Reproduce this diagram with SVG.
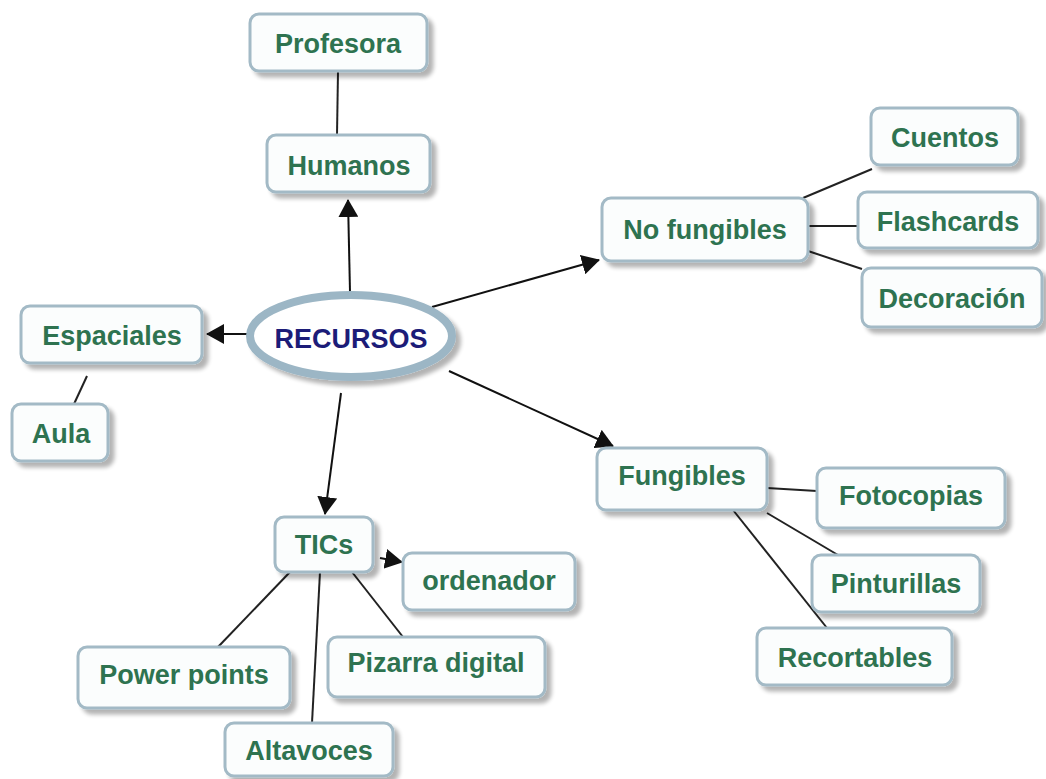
<svg xmlns="http://www.w3.org/2000/svg" width="1046" height="779" viewBox="0 0 1046 779">
<defs>
<filter id="sh" x="-20%" y="-20%" width="140%" height="150%">
<feGaussianBlur in="SourceAlpha" stdDeviation="2"/>
<feOffset dx="5" dy="5" result="o"/>
<feComponentTransfer><feFuncA type="linear" slope="0.3"/></feComponentTransfer>
<feMerge><feMergeNode/><feMergeNode in="SourceGraphic"/></feMerge>
</filter>
<marker id="arr" markerUnits="userSpaceOnUse" markerWidth="18" markerHeight="20" refX="17" refY="10" orient="auto" viewBox="0 0 18 20">
<path d="M0,0 L18,10 L0,20 z" fill="#111"/>
</marker>
</defs>
<style>
.box{fill:#fbfdfd;stroke:#a3bac6;stroke-width:3;filter:url(#sh)}
.lbl{font-family:"Liberation Sans",Arial,sans-serif;font-weight:bold;font-size:27px;fill:#2e7350;text-anchor:middle}
.ln{stroke:#222;stroke-width:2;fill:none}
.ar{stroke:#111;stroke-width:2;fill:none;marker-end:url(#arr)}
</style>
<rect width="1046" height="779" fill="#ffffff"/>
<g id="connectors">
<line class="ln" x1="338" y1="71" x2="337" y2="135"/>
<line class="ar" x1="350" y1="292" x2="348" y2="200"/>
<line class="ar" x1="248" y1="334" x2="207" y2="334"/>
<line class="ln" x1="87" y1="376" x2="74" y2="404"/>
<line class="ar" x1="432" y1="307" x2="599" y2="260"/>
<line class="ar" x1="449" y1="371" x2="613" y2="446"/>
<line class="ar" x1="341" y1="393" x2="325" y2="514"/>
<line class="ar" x1="380" y1="558" x2="402" y2="562"/>
<line class="ln" x1="803" y1="198" x2="872" y2="169"/>
<line class="ln" x1="808" y1="226" x2="858" y2="226"/>
<line class="ln" x1="808" y1="251" x2="862" y2="269"/>
<line class="ln" x1="767" y1="488" x2="817" y2="491"/>
<line class="ln" x1="767" y1="513" x2="838" y2="555"/>
<line class="ln" x1="733" y1="510" x2="827" y2="628"/>
<line class="ln" x1="290" y1="572" x2="218" y2="647"/>
<line class="ln" x1="320" y1="572" x2="312" y2="723"/>
<line class="ln" x1="352" y1="572" x2="403" y2="637"/>
</g>
<g id="recursos">
<ellipse cx="351" cy="336" rx="101" ry="41" fill="#ffffff" stroke="#9cb6c5" stroke-width="8" filter="url(#sh)"/>
<text x="351" y="348" font-family="Liberation Sans,Arial,sans-serif" font-weight="bold" font-size="27" fill="#1c1c78" text-anchor="middle">RECURSOS</text>
</g>
<g id="profesora"><rect class="box" x="250" y="14" width="177" height="57" rx="9"/><text class="lbl" x="338" y="53">Profesora</text></g>
<g id="humanos"><rect class="box" x="267" y="135" width="163" height="57" rx="9"/><text class="lbl" x="349" y="175">Humanos</text></g>
<g id="espaciales"><rect class="box" x="21" y="306" width="181" height="57" rx="9"/><text class="lbl" x="112" y="345">Espaciales</text></g>
<g id="aula"><rect class="box" x="12" y="404" width="96" height="57" rx="9"/><text class="lbl" x="61" y="443">Aula</text></g>
<g id="nofungibles"><rect class="box" x="602" y="198" width="206" height="63" rx="9"/><text class="lbl" x="705" y="239">No fungibles</text></g>
<g id="cuentos"><rect class="box" x="871" y="108" width="147" height="57" rx="9"/><text class="lbl" x="945" y="147">Cuentos</text></g>
<g id="flashcards"><rect class="box" x="858" y="192" width="180" height="56" rx="9"/><text class="lbl" x="948" y="231">Flashcards</text></g>
<g id="decoracion"><rect class="box" x="862" y="268" width="180" height="59" rx="9"/><text class="lbl" x="952" y="308">Decoración</text></g>
<g id="fungibles"><rect class="box" x="597" y="448" width="170" height="62" rx="9"/><text class="lbl" x="682" y="485">Fungibles</text></g>
<g id="fotocopias"><rect class="box" x="817" y="468" width="188" height="60" rx="9"/><text class="lbl" x="911" y="505">Fotocopias</text></g>
<g id="pinturillas"><rect class="box" x="812" y="555" width="168" height="57" rx="9"/><text class="lbl" x="896" y="593">Pinturillas</text></g>
<g id="recortables"><rect class="box" x="757" y="628" width="195" height="57" rx="9"/><text class="lbl" x="855" y="667">Recortables</text></g>
<g id="tics"><rect class="box" x="275" y="517" width="98" height="55" rx="9"/><text class="lbl" x="324" y="554">TICs</text></g>
<g id="ordenador"><rect class="box" x="403" y="553" width="172" height="57" rx="9"/><text class="lbl" x="489" y="590">ordenador</text></g>
<g id="powerpoints"><rect class="box" x="78" y="647" width="212" height="61" rx="9"/><text class="lbl" x="184" y="684">Power points</text></g>
<g id="pizarra"><rect class="box" x="328" y="637" width="217" height="60" rx="9"/><text class="lbl" x="436" y="672">Pizarra digital</text></g>
<g id="altavoces"><rect class="box" x="225" y="723" width="168" height="53" rx="9"/><text class="lbl" x="309" y="760">Altavoces</text></g>
</svg>
